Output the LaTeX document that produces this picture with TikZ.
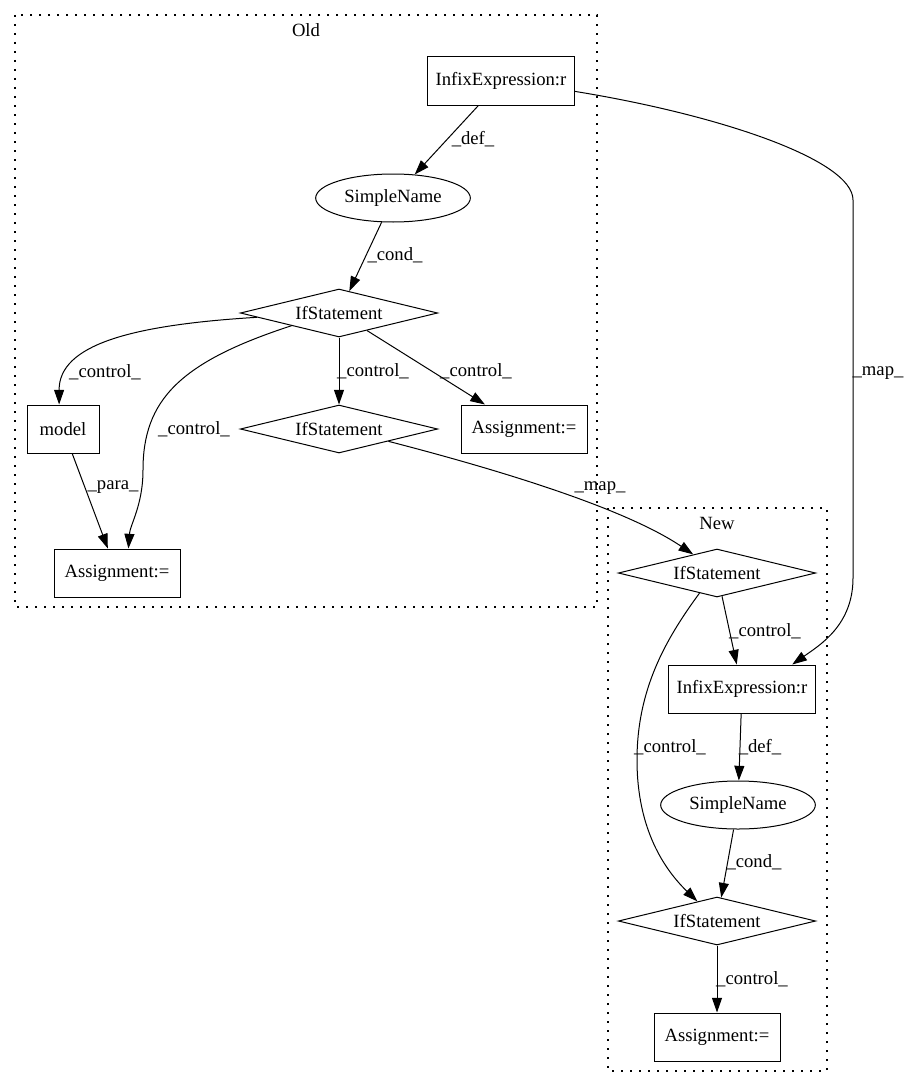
\documentclass[tikz,border=0pt]{standalone}
\usepackage{fontspec}
\setmainfont{Liberation Serif}
\usetikzlibrary{shapes.geometric,arrows.meta}
\begin{document}
\begin{tikzpicture}[x=0.75pt,y=-0.75pt,
  every node/.style={font=\fontsize{14}{16}\selectfont, inner sep=0pt},
  box/.style={draw, line width=0.75pt, rectangle, minimum height=36pt},
  ell/.style={draw, line width=0.75pt, ellipse, minimum width=116pt, minimum height=36pt},
  dia/.style={draw, line width=0.75pt, diamond, aspect=4, minimum width=148pt, minimum height=36pt},
  edge/.style={draw, line width=0.75pt, -{Triangle[length=11pt,width=7.5pt]}},
  cluster/.style={draw, line width=1.1pt, dash pattern=on 1.5pt off 5.25pt},
]
\useasboundingbox (0,0) rectangle (909,1088);

% clusters
\draw[cluster] (15,15) rectangle (597,607);
\node (oldlab) at (306,30) {Old};
\draw[cluster] (608,508) rectangle (827,1071);
\node (newlab) at (717,523) {New};

% Old nodes
\node[box, minimum width=110.25pt] (oI) at (501,81) {InfixExpression:r};
\node[ell] (oS) at (393,198) {SimpleName};
\node[dia] (oIf1) at (339,313) {IfStatement};
\node[box, minimum width=54pt] (model) at (63,429) {model};
\node[dia] (oIf2) at (339,429) {IfStatement};
\node[box, minimum width=94.5pt] (oA1) at (524,429) {Assignment:=};
\node[box, minimum width=94.5pt] (oA2) at (117,573) {Assignment:=};

% New nodes
\node[dia] (nIf1) at (717,573) {IfStatement};
\node[box, minimum width=110.25pt] (nI) at (742,689) {InfixExpression:r};
\node[ell] (nS) at (738,805) {SimpleName};
\node[dia] (nIf2) at (717,921) {IfStatement};
\node[box, minimum width=94.5pt] (nA) at (717,1037) {Assignment:=};

% Old edges
\draw[edge] (oI) -- (oS);
\node (l1) at (473,139) {\_def\_};
\draw[edge] (oS) -- (oIf1);
\node (l2) at (395,255) {\_cond\_};
\draw[edge] (oIf1.183) .. controls (130,325) and (59,345) .. (model.99);
\node (l3) at (105,372) {\_control\_};
\draw[edge] (oIf1.195.5) .. controls (180,362) and (143,400) .. (143,470)
  .. controls (143,505) and (130,525) .. (oA2.65.4);
\node (l4) at (194,429) {\_control\_};
\draw[edge] (model) -- (oA2);
\node (l5) at (113,487) {\_para\_};
\draw[edge] (oIf1) -- (oIf2);
\node (l6) at (373,371) {\_control\_};
\draw[edge] (oIf1) -- (oA1);
\node (l7) at (476,371) {\_control\_};

% map edges
\draw[edge] (oIf2.346) .. controls (480,465) and (620,505) .. (nIf1.142.8);
\node (l8) at (600,488) {\_map\_};
\draw[edge] (oI.352.3) .. controls (720,115) and (853,160) .. (853,200)
  -- (853,578) .. controls (853,625) and (820,645) .. (nI.26.6);
\node (l9) at (878,373) {\_map\_};

% New edges
\draw[edge] (nIf1) -- (nI);
\node (l10) at (765,631) {\_control\_};
\draw[edge] (nIf1.229.6) .. controls (665,640) and (637,690) .. (637,760)
  .. controls (637,830) and (665,870) .. (nIf2.135);
\node (l11) at (670,747) {\_control\_};
\draw[edge] (nI) -- (nS);
\node (l12) at (760,747) {\_def\_};
\draw[edge] (nS) -- (nIf2);
\node (l13) at (754,862) {\_cond\_};
\draw[edge] (nIf2) -- (nA);
\node (l14) at (752,979) {\_control\_};
\end{tikzpicture}
\end{document}
